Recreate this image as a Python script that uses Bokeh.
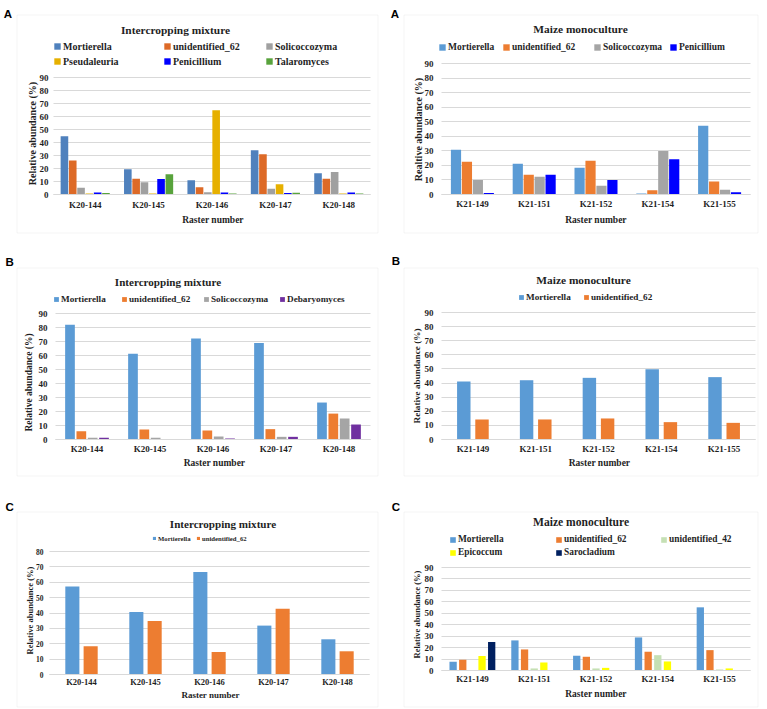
from bokeh.plotting import figure
from bokeh.models import (ColumnDataSource, Range1d, Legend, LegendItem, Label,
                          FixedTicker, BoxAnnotation, Grid)
from bokeh.layouts import row, column
from bokeh.transform import dodge
from bokeh.embed import file_html
from bokeh.resources import INLINE

# ---------------- data ----------------
cats_k20 = ["K20-144", "K20-145", "K20-146", "K20-147", "K20-148"]
cats_k21 = ["K21-149", "K21-151", "K21-152", "K21-154", "K21-155"]
yticks_90 = [0, 10, 20, 30, 40, 50, 60, 70, 80, 90]
yticks_80 = [0, 10, 20, 30, 40, 50, 60, 70, 80]

# Panel A - Intercropping mixture
a1_names = ["Mortierella", "unidentified_62", "Solicoccozyma", "Pseudaleuria", "Penicillium", "Talaromyces"]
a1_mortierella = [44.9, 19.5, 11.0, 34.1, 16.4]
a1_unidentified_62 = [26.2, 12.1, 5.6, 31.0, 12.1]
a1_solicoccozyma = [5.1, 9.5, 1.8, 4.4, 17.4]
a1_pseudaleuria = [0.8, 0.7, 64.9, 7.9, 0.8]
a1_penicillium = [1.5, 12.0, 1.5, 1.2, 1.5]
a1_talaromyces = [1.2, 15.6, 0.7, 1.3, 0.8]

# Panel A - Maize monoculture
a2_names = ["Mortierella", "unidentified_62", "Solicoccozyma", "Penicillium"]
a2_mortierella = [30.8, 21.1, 18.4, 0.7, 47.3]
a2_unidentified_62 = [22.5, 13.5, 23.2, 3.0, 9.0]
a2_solicoccozyma = [9.9, 12.2, 6.0, 29.8, 3.2]
a2_penicillium = [1.1, 13.5, 9.9, 24.3, 1.6]

# Panel B - Intercropping mixture
b1_names = ["Mortierella", "unidentified_62", "Solicoccozyma", "Debaryomyces"]
b1_mortierella = [81.9, 61.3, 72.2, 68.9, 26.4]
b1_unidentified_62 = [5.9, 7.1, 6.4, 7.4, 18.5]
b1_solicoccozyma = [1.2, 1.2, 2.1, 1.9, 15.0]
b1_debaryomyces = [1.2, 0.0, 0.7, 1.9, 10.7]

# Panel B - Maize monoculture
b2_names = ["Mortierella", "unidentified_62"]
b2_mortierella = [41.1, 42.0, 43.7, 49.8, 44.2]
b2_unidentified_62 = [14.2, 14.2, 14.9, 12.3, 11.8]

# Panel C - Intercropping mixture
c1_names = ["Mortierella", "unidentified_62"]
c1_mortierella = [57.3, 40.6, 66.6, 31.8, 22.9]
c1_unidentified_62 = [18.4, 34.8, 14.7, 42.8, 15.1]

# Panel C - Maize monoculture
c2_names = ["Mortierella", "unidentified_62", "unidentified_42", "Epicoccum", "Sarocladium"]
c2_mortierella = [7.6, 26.3, 12.9, 28.9, 55.2]
c2_unidentified_62 = [9.4, 18.4, 12.0, 16.4, 17.8]
c2_unidentified_42 = [0.0, 1.8, 1.8, 13.4, 0.9]
c2_epicoccum = [12.6, 7.0, 2.3, 7.9, 1.8]
c2_sarocladium = [24.8, 0.0, 0.0, 0.0, 0.0]

# ---------------- styling ----------------
SERIF = "Liberation Serif"
SANS = "Liberation Sans"
TXT = "#1f1f1f"
GRID = "#d9d9d9"
HAS_CROSS = "cross_bounds" in Grid.properties()


def make_panel(cats, names, values, colors, ymax, yticks, origin, fig_size, box, plot, bw, bs,
               title, title_xy, title_size, leg_xy, leg_font, glyph,
               ylabel, ylab_xy, ylab_font, ytick_font, ytick_off,
               xtick_font, xtick_off, xlab_xy, xlab_font, letter, letter_xy):
    """All positions are given in page pixels (top-left origin)."""
    ox, oy = origin
    FW, FH = fig_size

    def sx(x):
        return x - ox

    def sy(y):
        return FH - (y - oy)

    pl, pr, pt, pb = plot
    pl, pr, pt, pb = pl - ox, pr - ox, pt - oy, pb - oy
    nc = len(cats)
    kx = (pr - pl) / nc
    ky = (pb - pt) / ymax
    p = figure(width=FW, height=FH,
               x_range=Range1d(-pl / kx, nc + (FW - pr) / kx),
               y_range=Range1d(-(FH - pb) / ky, ymax + pt / ky),
               output_backend="svg", toolbar_location=None, title_location=None,
               min_border=0, background_fill_color="white", border_fill_color="white",
               outline_line_color=None)

    centers = [i + 0.5 for i in range(nc)]

    # x axis inside the frame, at y = 0
    p.xaxis.fixed_location = 0
    p.xaxis.bounds = (0, nc)
    p.xaxis.ticker = FixedTicker(ticks=centers)
    p.xaxis.major_label_overrides = {c: k for c, k in zip(centers, cats)}
    p.xaxis.axis_line_color = GRID
    p.xaxis.major_tick_line_color = None
    p.xaxis.minor_tick_line_color = None
    p.xaxis.major_tick_out = 0
    p.xaxis.major_tick_in = 0
    p.xaxis.major_label_text_font = SERIF
    p.xaxis.major_label_text_font_style = "bold"
    p.xaxis.major_label_text_font_size = f"{xtick_font}px"
    p.xaxis.major_label_text_color = TXT
    p.xaxis.major_label_standoff = xtick_off

    # y axis inside the frame, at the left edge of the plot area
    yt = FixedTicker(ticks=yticks)
    p.yaxis.fixed_location = 0
    p.yaxis.bounds = (0, ymax)
    p.yaxis.ticker = yt
    p.yaxis.axis_line_color = None
    p.yaxis.major_tick_line_color = None
    p.yaxis.minor_tick_line_color = None
    p.yaxis.major_tick_out = 0
    p.yaxis.major_tick_in = 0
    p.yaxis.major_label_text_font = SERIF
    p.yaxis.major_label_text_font_style = "bold"
    p.yaxis.major_label_text_font_size = f"{ytick_font}px"
    p.yaxis.major_label_text_color = TXT
    p.yaxis.major_label_standoff = ytick_off

    p.xgrid.visible = False
    p.ygrid.ticker = yt
    p.ygrid.grid_line_color = GRID
    if HAS_CROSS:
        p.ygrid.cross_bounds = (0, nc)

    # bars + legend entries
    n = len(names)
    LH = round(leg_font * 1.2)
    for i, (nm, vals, col) in enumerate(zip(names, values, colors)):
        off = (i - (n - 1) / 2) * bs
        src = ColumnDataSource(dict(x=centers, v=vals))
        r = p.vbar(x=dodge("x", off), top="v", width=bw, source=src,
                   fill_color=col, line_color=None)
        lx, ly = leg_xy[i]
        lg = Legend(items=[LegendItem(label=nm, renderers=[r])],
                    location=(sx(lx), sy(ly) - LH / 2),
                    orientation="horizontal", margin=0, padding=0, spacing=0,
                    border_line_color=None, background_fill_alpha=0,
                    glyph_width=glyph, glyph_height=glyph, label_height=LH,
                    label_standoff=2, label_text_font=SERIF,
                    label_text_font_style="bold",
                    label_text_font_size=f"{leg_font}px", label_text_color=TXT)
        p.add_layout(lg)

    def text(t, xy, size, font=SERIF, angle=0, align="center", baseline="middle", color=TXT):
        p.add_layout(Label(x=sx(xy[0]), y=sy(xy[1]), x_units="screen", y_units="screen",
                           text=t, text_align=align, text_baseline=baseline,
                           angle=angle, angle_units="deg",
                           text_font=font, text_font_style="bold",
                           text_font_size=f"{size}px", text_color=color))

    text(title, title_xy, title_size)                      # chart title
    text(ylabel, ylab_xy, ylab_font, angle=90)             # y axis title
    text("Raster number", xlab_xy, xlab_font)              # x axis title
    text(letter, letter_xy, 11.5, font=SANS, align="left",
         baseline="alphabetic", color="#000000")           # panel letter

    bl, bt, br, bb = box
    p.add_layout(BoxAnnotation(left=sx(bl) + 0.5, right=sx(br) - 0.5,
                               top=sy(bt) - 0.5, bottom=sy(bb) + 0.5,
                               left_units="screen", right_units="screen",
                               top_units="screen", bottom_units="screen",
                               fill_color=None, line_color=GRID, line_width=1))
    return p


COL_A1 = ["#4f81bd", "#dd6a27", "#a0a0a0", "#e6b000", "#0000ff", "#58a33c"]
COL_STD = {"Mortierella": "#5b9bd5", "unidentified_62": "#ed7d31", "Solicoccozyma": "#a5a5a5",
           "Penicillium": "#0000ff", "Debaryomyces": "#7030a0", "unidentified_42": "#c5e0b4",
           "Epicoccum": "#ffff00", "Sarocladium": "#002060"}

pA1 = make_panel(cats_k20, a1_names,
                 [a1_mortierella, a1_unidentified_62, a1_solicoccozyma, a1_pseudaleuria,
                  a1_penicillium, a1_talaromyces],
                 COL_A1, 90, yticks_90, (0, 0), (383, 245), (16, 14, 378, 233),
                 (53, 370, 77, 194), 0.12, 0.131,
                 "Intercropping mixture", (175, 29), 11.4,
                 [(53, 46), (163, 46), (265, 46), (53, 61), (163, 61), (265, 61)], 10, 8,
                 "Relative abundance (%)", (32, 133), 10, 9, 5,
                 9, 5, (212.5, 219), 9.5, "A", (3.3, 13.3))

pA2 = make_panel(cats_k21, a2_names,
                 [a2_mortierella, a2_unidentified_62, a2_solicoccozyma, a2_penicillium],
                 [COL_STD[n] for n in a2_names], 90, yticks_90, (383, 0), (384, 245),
                 (403, 14, 758, 233), (441, 750, 63, 194), 0.165, 0.177,
                 "Maize monoculture", (580, 28), 11.4,
                 [(438, 47), (502, 47), (593, 47), (669, 47)], 9.5, 8,
                 "Realtive abundance (%)", (418, 129), 10, 9, 8,
                 9, 4, (595.5, 219), 9.5, "A", (390.3, 13.3))

pB1 = make_panel(cats_k20, b1_names,
                 [b1_mortierella, b1_unidentified_62, b1_solicoccozyma, b1_debaryomyces],
                 [COL_STD[n] for n in b1_names], 90, yticks_90, (0, 245), (383, 245),
                 (16, 267, 378, 476), (55, 370, 313, 439), 0.154, 0.18,
                 "Intercropping mixture", (167.5, 281), 11.1,
                 [(53, 299), (121, 299), (203, 299), (279, 299)], 9.2, 6,
                 "Relative abundance (%)", (28, 382), 9.5, 9, 8,
                 9, 4, (214, 462), 9.5, "B", (5, 261.7))

pB2 = make_panel(cats_k21, b2_names,
                 [b2_mortierella, b2_unidentified_62],
                 [COL_STD[n] for n in b2_names], 90, yticks_90, (383, 245), (384, 245),
                 (403, 267, 758, 476), (441, 755, 312, 439), 0.214, 0.29,
                 "Maize monoculture", (583, 279), 11.4,
                 [(518, 297), (583, 297)], 9.2, 6,
                 "Relative abundance (%)", (416, 375.5), 9.2, 9, 8,
                 9, 4, (599, 462), 9.5, "B", (391.3, 260.7))

pC1 = make_panel(cats_k20, c1_names,
                 [c1_mortierella, c1_unidentified_62],
                 [COL_STD[n] for n in c1_names], 80, yticks_80, (0, 490), (383, 218),
                 (16, 511, 378, 707), (49, 369, 551, 674), 0.22, 0.286,
                 "Intercropping mixture", (222.5, 523), 11.1,
                 [(152, 538), (196, 538)], 6.7, 4,
                 "Relative abundance (%)", (29, 610), 8.5, 7.5, 6,
                 8.5, 2, (210, 694), 9, "C", (5, 506.7))

pC2 = make_panel(cats_k21, c2_names,
                 [c2_mortierella, c2_unidentified_62, c2_unidentified_42, c2_epicoccum,
                  c2_sarocladium],
                 [COL_STD[n] for n in c2_names], 90, yticks_90, (383, 490), (384, 218),
                 (403, 511, 758, 707), (441, 750, 567, 670), 0.118, 0.156,
                 "Maize monoculture", (580.5, 522), 11.6,
                 [(449, 539), (555, 539), (660, 539), (449, 552), (555, 552)], 9.4, 7,
                 "Relative abundance (%)", (416, 614), 8.5, 9, 8,
                 9, 3, (595.5, 693), 9.5, "C", (391.3, 506))

layout = column(row(pA1, pA2), row(pB1, pB2), row(pC1, pC2))

open("out.html", "w").write(file_html(layout, INLINE))
